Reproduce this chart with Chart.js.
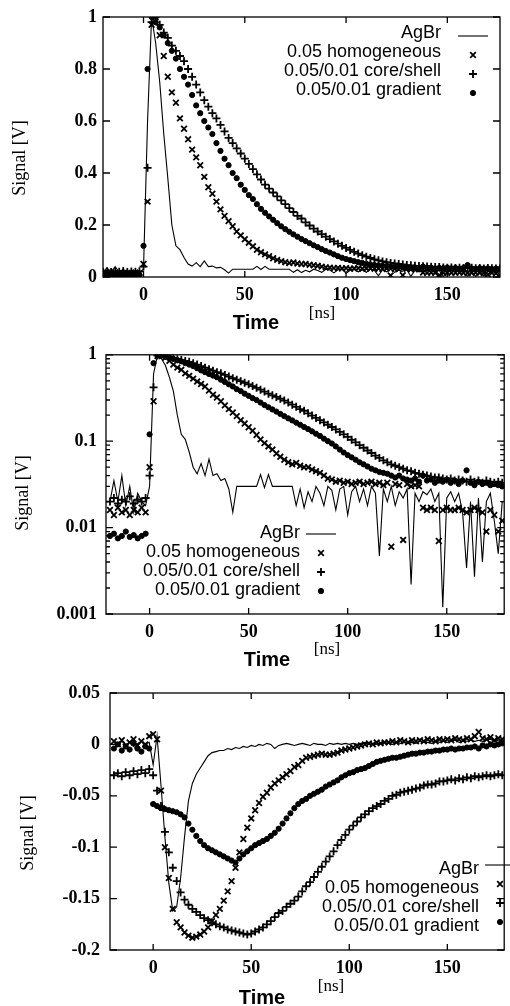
<!DOCTYPE html>
<html>
<head>
<meta charset="utf-8">
<script src="https://cdn.jsdelivr.net/npm/chart.js@4.4.1/dist/chart.umd.min.js"></script>
<style>
  body { margin: 0; background: #fff; width: 510px; height: 1006px; position: relative; overflow: hidden; }
  canvas { position: absolute; left: 0; }
</style>
</head>
<body>
<canvas id="decayLin" width="510" height="335" style="top:0"></canvas>
<canvas id="decayLog" width="510" height="335" style="top:335px"></canvas>
<canvas id="absorb" width="510" height="336" style="top:670px"></canvas>
<script>
const seriesLabels = ['AgBr', '0.05 homogeneous', '0.05/0.01 core/shell', '0.05/0.01 gradient']

const times = [
  -20, -18, -16, -14, -12, -10, -8, -6, -4, -2,
  0, 2, 4, 6, 8, 10, 12, 14, 16, 18,
  20, 22, 24, 26, 28, 30, 32, 34, 36, 38,
  40, 42, 44, 46, 48, 50, 52, 54, 56, 58,
  60, 62, 64, 66, 68, 70, 72, 74, 76, 78,
  80, 82, 84, 86, 88, 90, 92, 94, 96, 98,
  100, 102, 104, 106, 108, 110, 112, 114, 116, 118,
  120, 122, 124, 126, 128, 130, 132, 134, 136, 138,
  140, 142, 144, 146, 148, 150, 152, 154, 156, 158,
  160, 162, 164, 166, 168, 170, 172, 174, 176, 178
]

const xTicks = [0, 50, 100, 150]
const linTicks = [0, 0.2, 0.4, 0.6, 0.8, 1]
const logTicks = [0.001, 0.01, 0.1, 1]
const absTicks = [-0.2, -0.15, -0.1, -0.05, 0, 0.05]

// decay traces, the top two panels show the same data (linear / log)
const agbrDecay = [
  0.02, 0.035, 0.02, 0.04, 0.018, 0.03, 0.015, 0.025, 0.02, 0.018,
  0.03, 0.6, 1.0, 0.9, 0.75, 0.55, 0.38, 0.2, 0.12, 0.105,
  0.075, 0.05, 0.042, 0.055, 0.04, 0.062, 0.04, 0.042, 0.035, 0.037,
  0.028, 0.015, 0.03, 0.03, 0.03, 0.03, 0.03, 0.03, 0.041, 0.029,
  0.041, 0.03, 0.03, 0.03, 0.03, 0.03, 0.03, 0.018, 0.028, 0.017,
  0.026, 0.02, 0.03, 0.025, 0.018, 0.03, 0.027, 0.016, 0.028, 0.03,
  0.014, 0.026, 0.03, 0.02, 0.028, 0.018, 0.03, 0.025, 0.0047, 0.028,
  0.02, 0.03, 0.018, 0.026, 0.022, 0.028, 0.0022, 0.025, 0.02, 0.026,
  0.024, 0.028, 0.02, 0.025, 0.0012, 0.022, 0.026, 0.02, 0.025, 0.015,
  0.0034, 0.02, 0.0027, 0.022, 0.004, 0.02, 0.025, 0.012, 0.005, 0.02
]
const homDecay = [
  0.016, 0.014, 0.017, 0.015, 0.016, 0.014, 0.016, 0.015, 0.017, 0.015,
  0.05, 0.29, 0.97, 1.0, 0.93, 0.85, 0.77, 0.71, 0.67, 0.61,
  0.57, 0.53, 0.49, 0.46, 0.43, 0.385, 0.345, 0.32, 0.29, 0.26,
  0.235, 0.215, 0.195, 0.175, 0.16, 0.145, 0.132, 0.118, 0.105, 0.095,
  0.087, 0.08, 0.072, 0.066, 0.061, 0.057, 0.054, 0.056, 0.052, 0.05,
  0.05, 0.047, 0.045, 0.043, 0.04, 0.037, 0.036, 0.034, 0.035, 0.033,
  0.034, 0.032, 0.033, 0.034, 0.032, 0.033, 0.034, 0.032, 0.033, 0.031,
  0.033, 0.006, 0.032, 0.031, 0.0072, 0.032, 0.03, 0.031, 0.03, 0.017,
  0.016, 0.017, 0.016, 0.007, 0.016, 0.017, 0.016, 0.016, 0.017, 0.016,
  0.015, 0.016, 0.017, 0.016, 0.015, 0.009, 0.016, 0.014, 0.009, 0.012
]
const coreDecay = [
  0.02, 0.022, 0.019, 0.021, 0.02, 0.023, 0.019, 0.021, 0.02, 0.022,
  0.04, 0.42, 0.98, 1.0, 0.97, 0.94, 0.92, 0.89, 0.87, 0.85,
  0.83, 0.8, 0.77, 0.74, 0.71, 0.68, 0.655, 0.63, 0.61, 0.585,
  0.56, 0.535, 0.515, 0.495, 0.475, 0.455, 0.435, 0.415, 0.395, 0.375,
  0.355, 0.34, 0.325, 0.31, 0.295, 0.28, 0.265, 0.25, 0.235, 0.225,
  0.21, 0.198, 0.186, 0.175, 0.165, 0.155, 0.146, 0.137, 0.128, 0.12,
  0.112, 0.104, 0.097, 0.09, 0.084, 0.078, 0.073, 0.068, 0.064, 0.06,
  0.057, 0.054, 0.052, 0.05, 0.048, 0.046, 0.045, 0.043, 0.042, 0.041,
  0.04, 0.039, 0.038, 0.038, 0.037, 0.036, 0.037, 0.035, 0.036, 0.035,
  0.034, 0.036, 0.034, 0.035, 0.033, 0.035, 0.034, 0.033, 0.034, 0.033
]
const gradDecay = [
  0.008, 0.0085, 0.0075, 0.008, 0.009, 0.0078, 0.0082, 0.0075, 0.008, 0.0085,
  0.12, 0.8, 1.0, 0.98, 0.96, 0.93, 0.9, 0.87, 0.84, 0.8,
  0.77, 0.74, 0.7, 0.66, 0.63, 0.6, 0.575, 0.55, 0.515, 0.485,
  0.455, 0.43, 0.4, 0.38, 0.355, 0.335, 0.315, 0.3, 0.28, 0.262,
  0.247, 0.233, 0.22, 0.207, 0.195, 0.184, 0.174, 0.164, 0.155, 0.146,
  0.138, 0.13, 0.122, 0.115, 0.107, 0.1, 0.094, 0.087, 0.08, 0.074,
  0.069, 0.065, 0.061, 0.057, 0.054, 0.051, 0.048, 0.046, 0.044, 0.043,
  0.042, 0.04, 0.038, 0.04, 0.037, 0.036, 0.035, 0.037, 0.034, 0.04,
  0.035, 0.036, 0.033, 0.035, 0.034, 0.036, 0.033, 0.035, 0.032, 0.035,
  0.046, 0.033, 0.031, 0.034, 0.032, 0.033, 0.031, 0.032, 0.031, 0.03
]

// bottom panel
const agbrAbs = [
  0.002, -0.001, 0.003, 0.0, 0.002, -0.002, 0.001, 0.003, 0.0, 0.002,
  -0.02, 0.008, -0.04, -0.09, -0.135, -0.162, -0.158, -0.13, -0.09, -0.055,
  -0.038, -0.029, -0.023, -0.017, -0.011, -0.008, -0.007, -0.006, -0.006, -0.004,
  -0.005, -0.003, -0.004, -0.002, -0.003, -0.001, -0.002, 0.0, -0.001, 0.001,
  0.0, -0.004, -0.001, 0.0, 0.001, 0.0, -0.001, 0.0, 0.001, 0.0,
  -0.001, 0.001, 0.0, 0.0, -0.001, 0.001, 0.0, 0.001, 0.0, 0.001,
  0.0, 0.001, 0.0, 0.001, 0.002, 0.0, 0.001, 0.0, 0.001, 0.002,
  0.001, 0.0, 0.002, 0.001, 0.002, 0.001, 0.002, 0.001, 0.003, 0.002,
  0.002, 0.001, 0.003, 0.002, 0.003, 0.002, 0.003, 0.004, 0.002, 0.003,
  0.003, 0.004, 0.003, 0.004, 0.003, 0.004, 0.005, 0.003, 0.004, 0.004
]
const homAbs = [
  0.003, 0.0, 0.004, -0.002, 0.002, 0.005, -0.001, 0.003, 0.0, 0.008,
  0.01, 0.005, -0.045, -0.1, -0.13, -0.16, -0.173, -0.178, -0.183, -0.186,
  -0.188, -0.187, -0.185, -0.182, -0.178, -0.172, -0.166, -0.16, -0.152, -0.143,
  -0.133, -0.12, -0.105, -0.092, -0.081, -0.072, -0.064, -0.057, -0.051, -0.047,
  -0.042, -0.038, -0.035, -0.032, -0.029, -0.026, -0.022, -0.02, -0.016, -0.013,
  -0.012, -0.011, -0.01, -0.009, -0.01, -0.01, -0.009, -0.008, -0.006, -0.005,
  -0.004, -0.003, -0.002, -0.001, 0.0, 0.001, 0.0, 0.002, 0.001, 0.002,
  0.002, 0.003, 0.002, 0.004, 0.003, 0.002, 0.004, 0.003, 0.004, 0.003,
  0.005, 0.004, 0.003, 0.005, 0.004, 0.005, 0.004, 0.006, 0.005, 0.004,
  0.006, 0.005, 0.008, 0.012, 0.006, 0.005, 0.007, 0.004, 0.006, 0.005
]
const coreAbs = [
  -0.03, -0.028, -0.031, -0.027, -0.03, -0.026, -0.029, -0.025, -0.028, -0.024,
  -0.03, -0.045, -0.06, -0.085, -0.105, -0.12, -0.133, -0.144, -0.151, -0.156,
  -0.16, -0.163, -0.166, -0.169, -0.171, -0.173, -0.175, -0.177, -0.178, -0.18,
  -0.181, -0.182, -0.183, -0.184, -0.185, -0.184, -0.182, -0.18, -0.178, -0.175,
  -0.172, -0.168, -0.164, -0.162, -0.158, -0.155, -0.152, -0.148, -0.143, -0.138,
  -0.134, -0.129, -0.124, -0.119, -0.114, -0.109, -0.104, -0.098, -0.093, -0.088,
  -0.083, -0.079, -0.075, -0.071, -0.068, -0.065, -0.062, -0.06, -0.058, -0.055,
  -0.053, -0.05, -0.049, -0.047, -0.046, -0.045, -0.044, -0.043, -0.042, -0.04,
  -0.039, -0.039, -0.038, -0.036, -0.036, -0.035, -0.034, -0.035, -0.033, -0.034,
  -0.032, -0.033, -0.031, -0.032, -0.031, -0.03, -0.031, -0.03, -0.029, -0.03
]
const gradAbs = [
  -0.004, 0.0, -0.006, -0.002, -0.005, 0.001, -0.004, -0.007, -0.002, -0.004,
  -0.058, -0.06, -0.062, -0.063, -0.064, -0.065, -0.066, -0.068, -0.071, -0.077,
  -0.083, -0.089, -0.094, -0.098, -0.101, -0.103, -0.105, -0.107, -0.109, -0.111,
  -0.113, -0.115, -0.111, -0.107, -0.104, -0.101, -0.098, -0.096, -0.094, -0.092,
  -0.089, -0.086, -0.082, -0.077, -0.072, -0.067, -0.062, -0.058, -0.055, -0.053,
  -0.05, -0.048, -0.046, -0.044, -0.041, -0.039, -0.037, -0.035, -0.032, -0.03,
  -0.028, -0.027, -0.025, -0.024, -0.023, -0.021, -0.019, -0.017, -0.016, -0.015,
  -0.014, -0.013, -0.013, -0.012, -0.011, -0.01, -0.009, -0.009, -0.008, -0.008,
  -0.007, -0.007, -0.006, -0.006, -0.005, -0.005, -0.004, -0.005, -0.004, -0.004,
  -0.003, -0.003, -0.002, -0.004, -0.001, -0.002, 0.0, -0.001, 0.0, 0.001
]

const yTitle = 'Signal [V]'
const xTitle = 'Time'
const xUnit = '[ns]'

// line for AgBr, gnuplot-like point types for the rest
const looks = [
  { showLine: true, pointRadius: 0, borderWidth: 1.1 },
  { showLine: false, pointStyle: 'crossRot', pointRadius: 4, pointBorderWidth: 1.8 },
  { showLine: false, pointStyle: 'cross', pointRadius: 4, pointBorderWidth: 1.8 },
  { showLine: false, pointStyle: 'circle', pointRadius: 2.6, pointBorderWidth: 1 }
]

const minorLog = [0.001, 0.01, 0.1].flatMap(d => [2, 3, 4, 5, 6, 7, 8, 9].map(k => d * k))

// frame, inward ticks, axis texts and a gnuplot style key
const gnuplotFrame = {
  id: 'gnuplotFrame',
  afterDraw(chart, args, o) {
    const { ctx, chartArea: a } = chart
    const x = chart.scales.x
    const y = chart.scales.y
    ctx.save()
    ctx.strokeStyle = '#000'
    ctx.fillStyle = '#000'
    ctx.lineWidth = 1.3
    ctx.strokeRect(a.left, a.top, a.right - a.left, a.bottom - a.top)
    ctx.beginPath()
    x.ticks.forEach(t => {
      const px = x.getPixelForValue(t.value)
      ctx.moveTo(px, a.bottom); ctx.lineTo(px, a.bottom - 6)
      ctx.moveTo(px, a.top); ctx.lineTo(px, a.top + 6)
    })
    y.ticks.forEach(t => {
      const py = y.getPixelForValue(t.value)
      ctx.moveTo(a.left, py); ctx.lineTo(a.left + 7, py)
      ctx.moveTo(a.right, py); ctx.lineTo(a.right - 7, py)
    })
    if (o.minor) {
      minorLog.forEach(v => {
        const py = y.getPixelForValue(v)
        ctx.moveTo(a.left, py); ctx.lineTo(a.left + 4, py)
        ctx.moveTo(a.right, py); ctx.lineTo(a.right - 4, py)
      })
    }
    ctx.stroke()

    ctx.textAlign = 'center'
    ctx.textBaseline = 'middle'
    ctx.font = '18px "Liberation Serif"'
    ctx.save()
    ctx.translate(o.signal[0], o.signal[1])
    ctx.rotate(-Math.PI / 2)
    ctx.fillText(yTitle, 0, 0)
    ctx.restore()
    ctx.font = 'bold 20px "Liberation Sans"'
    ctx.fillText(xTitle, o.time[0], o.time[1])
    ctx.font = '17px "Liberation Serif"'
    ctx.fillText(xUnit, o.unit[0], o.unit[1])

    const lg = o.key
    ctx.font = '18px "Liberation Sans"'
    ctx.textAlign = 'right'
    chart.data.datasets.forEach((ds, i) => {
      const ty = lg.top + i * lg.gap
      ctx.fillText(ds.label, lg.right, ty)
      const sy = ty + lg.dy
      if (ds.showLine) {
        ctx.lineWidth = 1.1
        ctx.beginPath()
        ctx.moveTo(lg.sx - 15, sy)
        ctx.lineTo(lg.sx + 15, sy)
        ctx.stroke()
      } else {
        ctx.lineWidth = ds.pointBorderWidth
        Chart.helpers.drawPoint(ctx, { pointStyle: ds.pointStyle, radius: ds.pointRadius, borderWidth: ds.pointBorderWidth, rotation: 0 }, lg.sx, sy)
      }
    })
    ctx.restore()
  }
}

const tickFont = { family: 'Liberation Serif', size: 18, weight: 'bold' }

function makePanel(id, sets, cfg) {
  return new Chart(document.getElementById(id), {
    type: 'line',
    data: {
      datasets: sets.map((vals, i) => Object.assign({
        label: seriesLabels[i],
        data: times.map((t, k) => ({ x: t, y: vals[k] })),
        borderColor: '#000',
        backgroundColor: '#000',
        pointBorderColor: '#000',
        pointBackgroundColor: '#000',
        tension: 0
      }, looks[i]))
    },
    options: {
      responsive: false,
      animation: false,
      events: [],
      layout: { padding: { top: cfg.area.top, right: 510 - cfg.area.right, left: 0, bottom: 0 } },
      plugins: {
        legend: { display: false },
        tooltip: { enabled: false },
        gnuplotFrame: cfg
      },
      scales: {
        x: {
          type: 'linear',
          min: cfg.xMin,
          max: cfg.xMax,
          afterBuildTicks: s => { s.ticks = xTicks.map(v => ({ value: v })) },
          afterFit: s => { s.height = cfg.height - cfg.area.bottom },
          grid: { display: false, drawTicks: false },
          border: { display: false },
          ticks: { autoSkip: false, maxRotation: 0, padding: 8, color: '#000', font: tickFont, callback: v => String(v) }
        },
        y: {
          type: cfg.yType,
          min: cfg.yMin,
          max: cfg.yMax,
          afterBuildTicks: s => { s.ticks = cfg.yTicks.map(v => ({ value: v })) },
          afterFit: s => { s.width = cfg.area.left },
          grid: { display: false, drawTicks: false },
          border: { display: false },
          ticks: { autoSkip: false, padding: cfg.yPad, color: '#000', font: tickFont, callback: v => String(v) }
        }
      }
    },
    plugins: [gnuplotFrame]
  })
}

makePanel('decayLin', [agbrDecay, homDecay, coreDecay, gradDecay], {
  height: 335, area: { left: 103, right: 500, top: 17, bottom: 277 },
  xMin: -20, xMax: 176, yType: 'linear', yMin: 0, yMax: 1, yTicks: linTicks, yPad: 6,
  signal: [20, 158], time: [256, 323], unit: [322, 314],
  key: { right: 441, sx: 473, top: 33, gap: 19, dy: 3 }
})

makePanel('decayLog', [agbrDecay, homDecay, coreDecay, gradDecay], {
  height: 335, area: { left: 106, right: 505, top: 17, bottom: 279 },
  xMin: -22, xMax: 179, yType: 'logarithmic', yMin: 0.001, yMax: 1, yTicks: logTicks, yPad: 9, minor: true,
  signal: [23, 158], time: [267, 325], unit: [327, 315],
  key: { right: 300, sx: 321, top: 198, gap: 19, dy: 1 }
})

makePanel('absorb', [agbrAbs, homAbs, coreAbs, gradAbs], {
  height: 336, area: { left: 110, right: 508, top: 23, bottom: 280 },
  xMin: -22, xMax: 179, yType: 'linear', yMin: -0.2, yMax: 0.05, yTicks: absTicks, yPad: 10,
  signal: [28, 163], time: [262, 328], unit: [331, 317],
  key: { right: 479, sx: 500, top: 199, gap: 19, dy: -4 }
})
</script>
</body>
</html>
